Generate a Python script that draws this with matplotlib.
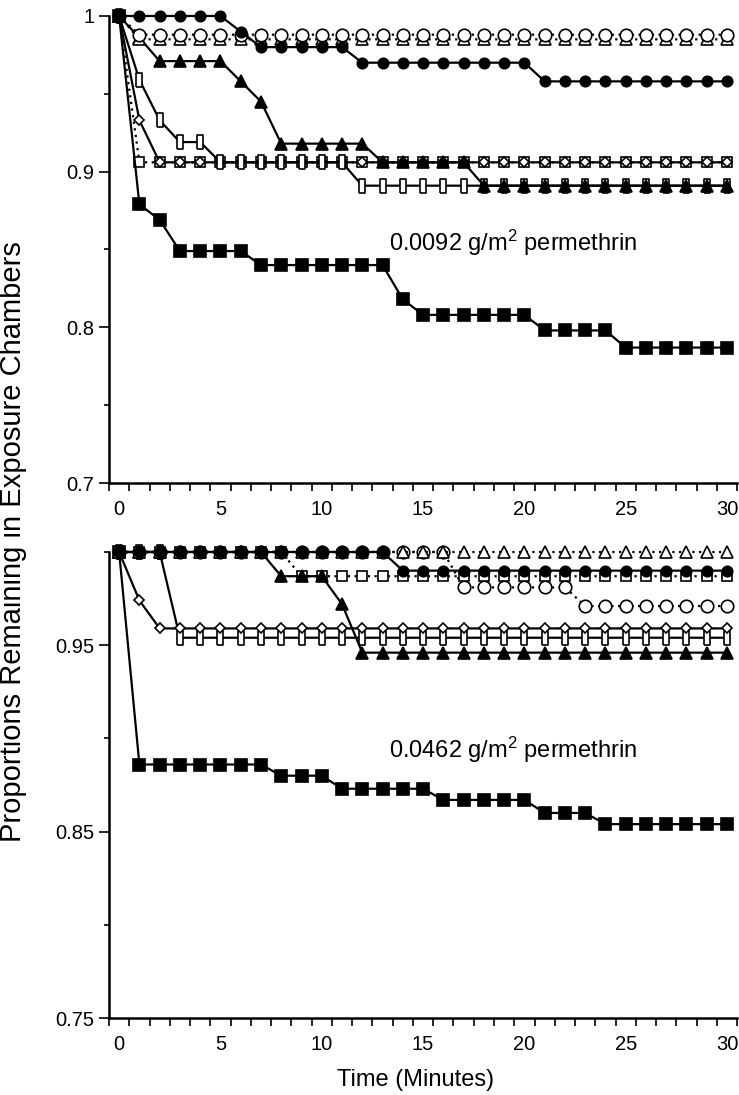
import numpy as np
import matplotlib
matplotlib.use("Agg")
import matplotlib.pyplot as plt
from matplotlib.ticker import FixedLocator, NullFormatter

plt.rcParams["font.family"] = ["Liberation Sans", "DejaVu Sans"]
plt.rcParams["mathtext.fontset"] = "custom"
plt.rcParams["mathtext.rm"] = "Liberation Sans"
plt.rcParams["mathtext.it"] = "Liberation Sans"

minutes = list(range(31))

# top panel: 0.0092 g/m2 permethrin
top_filled_circle = [1.0] * 6 + [0.99] + [0.98] * 5 + [0.97] * 9 + [0.958] * 10
top_open_circle = [1.0] + [0.988] * 30
top_open_triangle = [1.0] + [0.985] * 30
top_filled_triangle = [1.0, 0.986] + [0.971] * 4 + [0.958, 0.945] + [0.918] * 5 + [0.906] * 5 + [0.891] * 13
top_open_rect = [1.0, 0.959, 0.933, 0.919, 0.919] + [0.906] * 7 + [0.891] * 19
top_open_diamond = [1.0, 0.933] + [0.906] * 29
top_open_square = [1.0] + [0.906] * 30
top_filled_square = [1.0, 0.879, 0.869] + [0.849] * 4 + [0.840] * 7 + [0.818] + [0.808] * 6 + [0.798] * 4 + [0.787] * 6

# bottom panel: 0.0462 g/m2 permethrin
bot_filled_circle = [1.0] * 14 + [0.990] * 17
bot_open_triangle = [1.0] * 31
bot_open_circle = [1.0] * 17 + [0.981] * 6 + [0.971] * 8
bot_open_square = [1.0] * 9 + [0.987] * 22
bot_filled_triangle = [1.0] * 8 + [0.987] * 3 + [0.972] + [0.946] * 19
bot_open_diamond = [1.0, 0.974] + [0.959] * 29
bot_open_rect = [1.0] * 3 + [0.954] * 28
bot_filled_square = [1.0] + [0.886] * 7 + [0.880] * 3 + [0.873] * 5 + [0.867] * 5 + [0.860] * 3 + [0.854] * 7

rect_marker = [(-0.42, -1), (0.42, -1), (0.42, 1), (-0.42, 1), (-0.42, -1)]
dotted = (0, (1, 2))

styles = {
    "open_circle": dict(marker="o", mfc="white", ms=9, ls=dotted),
    "open_triangle": dict(marker="^", mfc="white", ms=9, ls=dotted),
    "open_square": dict(marker="s", mfc="white", ms=7, ls=dotted),
    "open_diamond": dict(marker="D", mfc="white", ms=5.5, ls="-"),
    "open_rect": dict(marker=rect_marker, mfc="white", ms=10, ls="-"),
    "filled_circle": dict(marker="o", mfc="black", ms=7.5, ls="-"),
    "filled_triangle": dict(marker="^", mfc="black", ms=9, ls="-"),
    "filled_square": dict(marker="s", mfc="black", ms=8, ls="-"),
}


def style_axes(ax, ymin, ymax, major, minor):
    ax.set_xlim(-0.5, 30.5)
    ax.set_ylim(ymin, ymax)
    for side in ["top", "right"]:
        ax.spines[side].set_visible(False)
    ax.spines["left"].set_linewidth(1.8)
    ax.spines["bottom"].set_linewidth(1.8)
    ax.set_xticks([0, 5, 10, 15, 20, 25, 30])
    ax.xaxis.set_minor_locator(FixedLocator(np.arange(-0.5, 30.6, 1)))
    ax.tick_params(axis="x", which="major", length=0, pad=12, labelsize=14.5)
    ax.tick_params(axis="x", which="minor", length=6, width=1.2, direction="out")
    ax.set_yticks(major)
    ax.yaxis.set_minor_locator(FixedLocator(minor))
    ax.yaxis.set_minor_formatter(NullFormatter())
    ax.tick_params(axis="y", which="major", length=7.5, width=1.2, pad=3, labelsize=14.5)
    ax.tick_params(axis="y", which="minor", length=3.5, width=1.2)


fig = plt.figure(figsize=(7.39, 10.95), dpi=100)
ax1 = fig.add_axes([0.1475, 0.5589, 0.850, 0.4265])
ax2 = fig.add_axes([0.1475, 0.0703, 0.850, 0.4256])

top_series = [
    ("open_square", top_open_square),
    ("open_diamond", top_open_diamond),
    ("open_rect", top_open_rect),
    ("filled_square", top_filled_square),
    ("filled_triangle", top_filled_triangle),
    ("open_triangle", top_open_triangle),
    ("open_circle", top_open_circle),
    ("filled_circle", top_filled_circle),
]
bot_series = [
    ("open_rect", bot_open_rect),
    ("open_diamond", bot_open_diamond),
    ("filled_square", bot_filled_square),
    ("open_circle", bot_open_circle),
    ("open_square", bot_open_square),
    ("filled_triangle", bot_filled_triangle),
    ("open_triangle", bot_open_triangle),
    ("filled_circle", bot_filled_circle),
]

for ax, series in [(ax1, top_series), (ax2, bot_series)]:
    for name, vals in series:
        st = styles[name]
        ax.plot(minutes, vals, color="black", lw=1.6, mec="black", mew=1.2,
                clip_on=False, **st)

style_axes(ax1, 0.7, 1.0, [0.7, 0.8, 0.9, 1.0], [0.75, 0.85, 0.95])
ax1.set_yticklabels(["0.7", "0.8", "0.9", "1"])
style_axes(ax2, 0.75, 1.0, [0.75, 0.85, 0.95], [0.8, 0.9, 1.0])
ax2.set_yticklabels(["0.75", "0.85", "0.95"])

ax1.text(13.3, 0.854, "0.0092 g/m$^{2}$ permethrin", fontsize=17, va="center")
ax2.text(13.3, 0.894, "0.0462 g/m$^{2}$ permethrin", fontsize=17, va="center")

fig.text(0.018, 0.505, "Proportions Remaining in Exposure Chambers",
         rotation=90, ha="center", va="center", fontsize=21)
fig.text(0.563, 0.014, "Time (Minutes)", ha="center", va="center", fontsize=17)

fig.savefig("out.png", dpi=100)
